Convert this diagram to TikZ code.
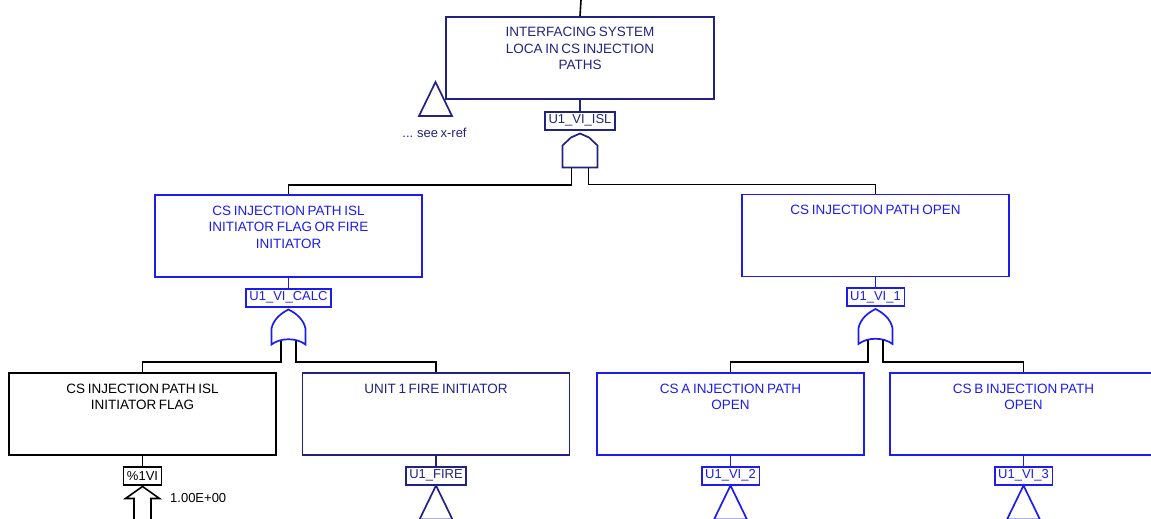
\documentclass[tikz,border=0pt]{standalone}
\usepackage{fontspec}
\setmainfont{Liberation Sans}
\usepackage{tikz}
\usetikzlibrary{positioning,calc}
\definecolor{gatenavy}{RGB}{34,34,130}
\definecolor{gateblue}{RGB}{28,28,240}
\newcommand\tightwords{\spaceskip=0.2em\relax}

\begin{document}
\begin{tikzpicture}[
    x=1pt, y=-1pt,
    node distance=10pt,
    event/.style={rectangle, draw, line width=1.8pt, minimum width=267pt, minimum height=82pt, inner sep=0pt},
    evtext/.style={inner sep=0pt, align=center, font={\fontsize{13.5}{16.5}\selectfont\tightwords}},
    tag/.style={rectangle, draw, line width=1.6pt, inner xsep=3.5pt, inner ysep=0pt, minimum height=18pt, font={\fontsize{13}{15}\selectfont}},
    note/.style={inner sep=0pt, font={\fontsize{13}{15}\selectfont\tightwords}},
    wire/.style={line width=1.6pt},
    andgate/.pic={
        \draw[line width=1.7pt] (-17.5,12) -- (-9,4) -- (0,0) -- (9,4) -- (17.5,12) -- (17.5,34) -- (-17.5,34) -- cycle;
        \coordinate (-L) at (-8.5,34);
        \coordinate (-R) at (8.5,34);
    },
    orgate/.pic={
        \draw[line width=1.7pt] (0,0) .. controls (8,4) and (15,10) .. (17,19) -- (17,35)
            .. controls (8,28) and (-8,28) .. (-17,35) -- (-17,19) .. controls (-15,10) and (-8,4) .. (0,0) -- cycle;
        \coordinate (-L) at (-7.5,31);
        \coordinate (-R) at (7.5,31);
    },
    xfer/.pic={
        \draw[line width=1.7pt] (0,0) -- (16.5,34) -- (-16.5,34) -- cycle;
    },
    flagarrow/.pic={
        \draw[line width=1.6pt] (0,0) -- (17,12) -- (8.5,12) -- (8.5,45) -- (-8.5,45) -- (-8.5,12) -- (-17,12) -- cycle;
    }
]
\useasboundingbox (0,0) rectangle (1151,519);
\clip (0,0) rectangle (1151,519);

% top event
\coordinate (root) at (581,0);
\node[event, gatenavy, minimum width=268pt] (isl) at (580,58) {};
\node[evtext, gatenavy, below=11pt of isl.north] (islT) {INTERFACING SYSTEM\\LOCA IN CS INJECTION\\PATHS};
\node[tag, gatenavy, below=11pt of isl] (islTag) {U1\_VI\_ISL};
\pic[gatenavy] (gIsl) at ([yshift=-3pt]islTag.south) {andgate};
\pic[gatenavy] (xref) at (435.5,82) {xfer};
\node[note, gatenavy] (xrefT) at (434.5,132.5) {... see x-ref};

% second level
\node[event, gateblue] (calc) at (288.5,236) {};
\node[evtext, gateblue, below=11.5pt of calc.north] (calcT) {CS INJECTION PATH ISL\\INITIATOR FLAG OR FIRE\\INITIATOR};
\node[tag, gateblue, below=10pt of calc] (calcTag) {U1\_VI\_CALC};
\pic[gateblue] (gCalc) at ([yshift=-2pt]calcTag.south) {orgate};

\node[event, gateblue] (open) at (875.5,235.5) {};
\node[evtext, gateblue, below=11.5pt of open.north] (openT) {CS INJECTION PATH OPEN};
\node[tag, gateblue, below=10pt of open] (openTag) {U1\_VI\_1};
\pic[gateblue] (gOpen) at ([yshift=-2pt]openTag.south) {orgate};

% third level
\node[event] (flag) at (142.5,414) {};
\node[evtext, below=11.5pt of flag.north] (flagT) {CS INJECTION PATH ISL\\INITIATOR FLAG};
\node[tag, below=10pt of flag] (flagTag) {\%1VI};
\pic (hFlag) at ([yshift=-1pt]flagTag.south) {flagarrow};
\node[note, anchor=west] (flagP) at (170,498) {1.00E+00};

\node[event, gatenavy] (fire) at (436,414) {};
\node[evtext, gatenavy, below=11.5pt of fire.north] (fireT) {UNIT 1 FIRE INITIATOR};
\node[tag, gatenavy, below=10pt of fire] (fireTag) {U1\_FIRE};
\pic[gatenavy] (xFire) at (fireTag.south) {xfer};

\node[event, gateblue] (csa) at (730.5,414) {};
\node[evtext, gateblue, below=11.5pt of csa.north] (csaT) {CS A INJECTION PATH\\OPEN};
\node[tag, gateblue, below=10pt of csa] (csaTag) {U1\_VI\_2};
\pic[gateblue] (xCsa) at (csaTag.south) {xfer};

\node[event, gateblue] (csb) at (1023.5,414) {};
\node[evtext, gateblue, below=11.5pt of csb.north] (csbT) {CS B INJECTION PATH\\OPEN};
\node[tag, gateblue, below=10pt of csb] (csbTag) {U1\_VI\_3};
\pic[gateblue] (xCsb) at (csbTag.south) {xfer};

% connectors
\draw[wire] (root) -- (isl.north);
\draw[wire, gatenavy] (isl.south) -- (islTag.north);
\draw[wire] (gIsl-L) |- ([yshift=9pt]calc.north) -- (calc.north);
\draw[wire] (gIsl-R) |- ([yshift=9pt]open.north) -- (open.north);

\draw[wire, gateblue] (calc.south) -- (calcTag.north);
\draw[wire] (gCalc-L) |- ([yshift=10pt]flag.north) -- (flag.north);
\draw[wire] (gCalc-R) |- ([yshift=10pt]fire.north) -- (fire.north);

\draw[wire, gateblue] (open.south) -- (openTag.north);
\draw[wire] (gOpen-L) |- ([yshift=10pt]csa.north) -- (csa.north);
\draw[wire] (gOpen-R) |- ([yshift=10pt]csb.north) -- (csb.north);

\draw[wire] (flag.south) -- (flagTag.north);
\draw[wire, gatenavy] (fire.south) -- (fireTag.north);
\draw[wire, gateblue] (csa.south) -- (csaTag.north);
\draw[wire, gateblue] (csb.south) -- (csbTag.north);

\end{tikzpicture}
\end{document}
